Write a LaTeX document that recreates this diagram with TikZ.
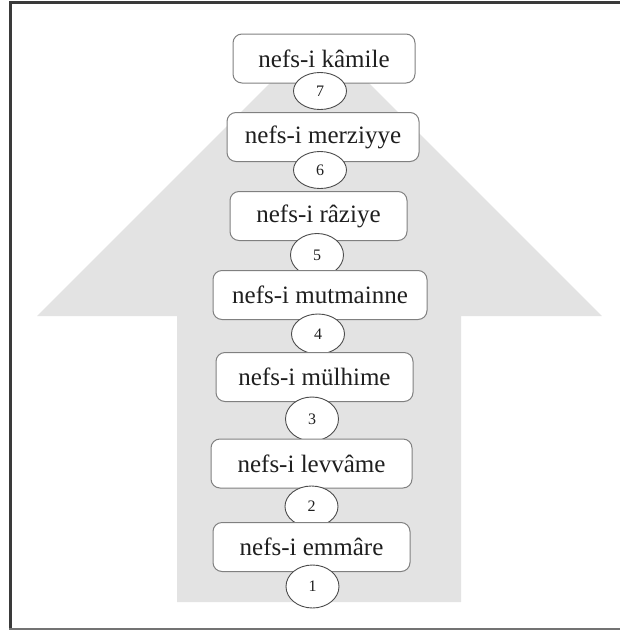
\documentclass[tikz,border=0pt]{standalone}
\usepackage{fontspec}
\setmainfont{Liberation Serif}
\usetikzlibrary{shapes.geometric}
\definecolor{arrowgray}{HTML}{E3E3E3}
\definecolor{framegray}{HTML}{3A3A3A}
\tikzstyle{stage}=[rectangle, rounded corners=9pt, draw=black!50, line width=1pt, fill=white, minimum height=49pt, inner sep=0pt, text=black!88, font=\fontsize{25}{30}\selectfont]
\tikzstyle{stagenum}=[ellipse, draw=black!70, line width=0.9pt, fill=white, minimum width=53pt, minimum height=40pt, inner sep=0pt, text=black!88, font=\fontsize{16}{18}\selectfont]

\begin{document}
\begin{tikzpicture}[x=1pt,y=-1pt]
\useasboundingbox (0,0) rectangle (620,630);
% frame
\draw[framegray,line width=2.6pt] (620,2.5)--(10.5,2.5)--(10.5,628.5);
\draw[black!55,line width=3pt] (9.2,629)--(620,629);
% big arrow behind the stages
\fill[arrowgray] (177,602)--(461,602)--(461,316)--(602,316)--(319.5,33.5)--(37,316)--(177,316)--cycle;
% stages, top down so each number sits over the box above it
\node[stage,minimum width=182pt] (kamile) at (324,58.5) {nefs-i kâmile};
\node[stagenum,minimum height=37pt] (n7) at (320,91) {7};
\node[stage,minimum width=192pt] (merziyye) at (323,137) {nefs-i merziyye};
\node[stagenum,minimum height=37pt] (n6) at (320,170) {6};
\node[stage,minimum width=177pt] (raziye) at (318.5,216) {nefs-i râziye};
\node[stagenum,minimum height=43pt] (n5) at (317,255) {5};
\node[stage,minimum width=214pt] (mutmainne) at (320,295) {nefs-i mutmainne};
\node[stagenum] (n4) at (318,334) {4};
\node[stage,minimum width=197pt] (mulhime) at (314.5,377) {nefs-i mülhime};
\node[stagenum,minimum height=44pt] (n3) at (312,419) {3};
\node[stage,minimum width=201pt] (levvame) at (311.5,463.5) {nefs-i levvâme};
\node[stagenum,minimum height=41pt] (n2) at (311.5,506.5) {2};
\node[stage,minimum width=197pt] (emmare) at (311.5,547) {nefs-i emmâre};
\node[stagenum,minimum height=43pt] (n1) at (312.5,586.5) {1};
\end{tikzpicture}
\end{document}
